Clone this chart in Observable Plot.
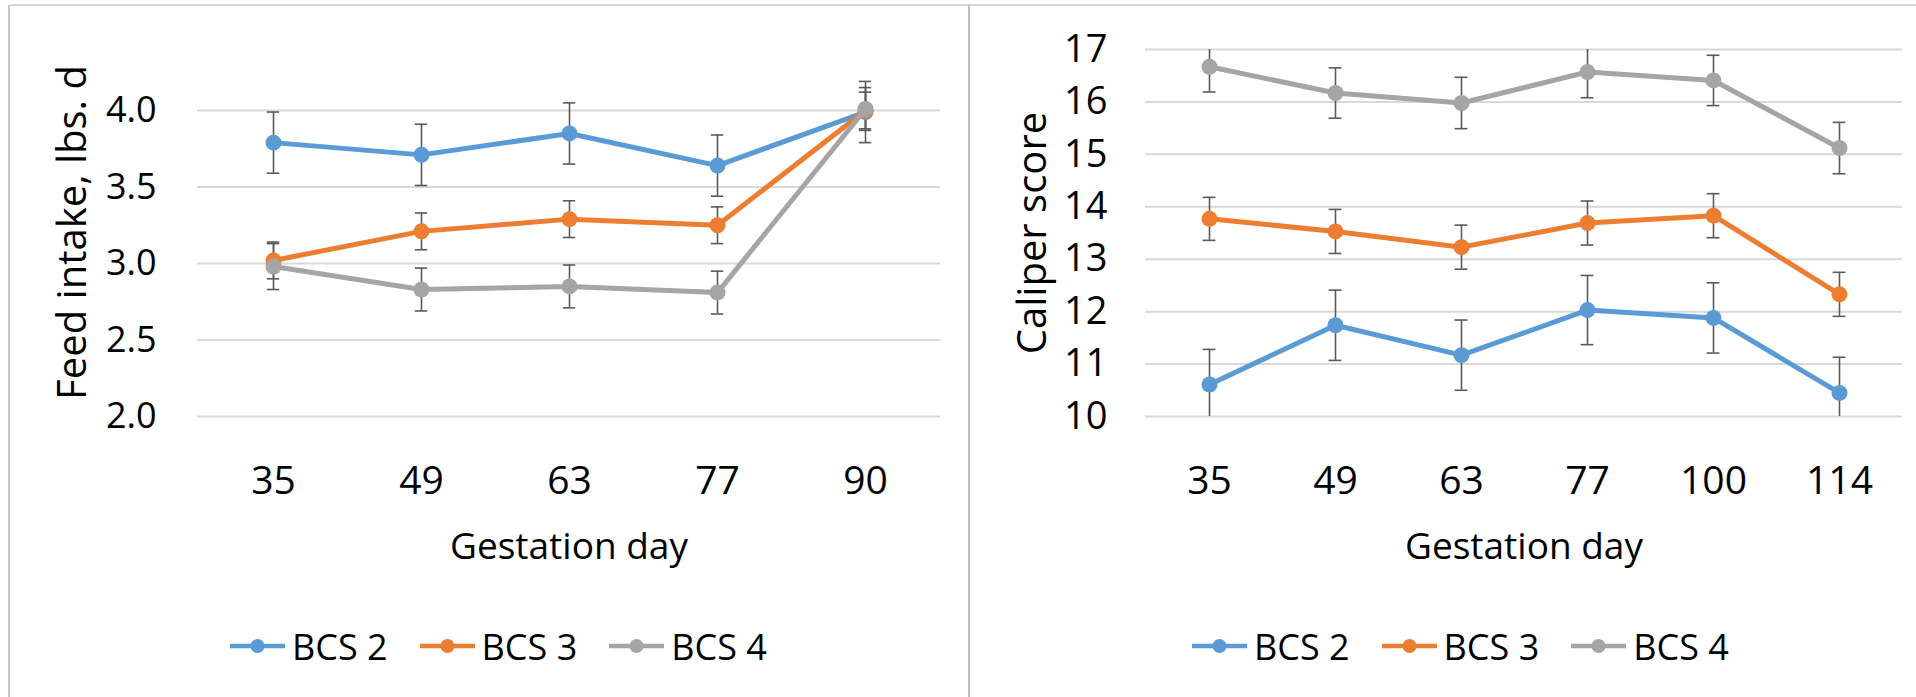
<!DOCTYPE html>
<html>
<head>
<meta charset="utf-8">
<script src="https://cdn.jsdelivr.net/npm/d3@7"></script>
<script src="https://cdn.jsdelivr.net/npm/@observablehq/plot@0.6"></script>
<style>
  body { margin: 0; background: #fff; }
  #root { position: relative; width: 1916px; height: 697px; overflow: hidden; font-family: "Open Sans", sans-serif; background: #fff; }
  .panel { position: absolute; top: 0; }
  .legend { position: absolute; top: 622px; height: 48px; display: flex; align-items: center; font-size: 36px; color: #000; white-space: nowrap; }
  .item { display: flex; align-items: center; margin-right: 32px; }
  .item svg { margin-right: 7px; display: block; }
  .rule { position: absolute; }
</style>
</head>
<body>
<div id="root"></div>
<script>
// ---- data ----
const seriesNames = ["BCS 2", "BCS 3", "BCS 4"];
const seriesColors = ["#5B9BD5", "#ED7D31", "#A5A5A5"];

// Left chart: Feed intake
const feedDays = ["35", "49", "63", "77", "90"];
const feedBCS2 = [3.79, 3.71, 3.85, 3.64, 3.99];
const feedBCS3 = [3.02, 3.21, 3.29, 3.25, 4.00];
const feedBCS4 = [2.98, 2.83, 2.85, 2.81, 4.01];
const feedErr2 = [0.20, 0.20, 0.20, 0.20, 0.20];
const feedErr3 = [0.12, 0.12, 0.12, 0.12, 0.12];
const feedErr4 = [0.15, 0.14, 0.14, 0.14, 0.14];
const feedTicks = [2.0, 2.5, 3.0, 3.5, 4.0];

// Right chart: Caliper score
const calDays = ["35", "49", "63", "77", "100", "114"];
const calBCS2 = [10.61, 11.74, 11.17, 12.03, 11.88, 10.45];
const calBCS3 = [13.77, 13.53, 13.23, 13.69, 13.83, 12.33];
const calBCS4 = [16.67, 16.17, 15.98, 16.57, 16.41, 15.12];
const calErr2 = [0.67, 0.67, 0.67, 0.66, 0.67, 0.68];
const calErr3 = [0.41, 0.42, 0.42, 0.42, 0.42, 0.42];
const calErr4 = [0.48, 0.48, 0.49, 0.49, 0.48, 0.49];
const calTicks = [10, 11, 12, 13, 14, 15, 16, 17];

const xTitle = "Gestation day";

function chart(o) {
  const data = [];
  o.series.forEach((vals, s) => vals.forEach((v, i) =>
    data.push({day: o.days[i], value: v, err: o.errs[s][i], name: seriesNames[s]})));
  const bw = (o.width - o.mL - o.mR) / o.days.length;
  const capInset = (bw - 13) / 2;
  const seriesMarks = seriesNames.flatMap(name => {
    const d = data.filter(r => r.name === name);
    return [
      Plot.line(d, {x: "day", y: "value", stroke: "name", strokeWidth: 5, strokeLinejoin: "round"}),
      Plot.dot(d, {x: "day", y: "value", fill: "name", r: 8, stroke: "none"})
    ];
  });
  return Plot.plot({
    width: o.width, height: o.height,
    marginLeft: o.mL, marginRight: o.mR, marginTop: o.mT, marginBottom: o.mB,
    style: {fontFamily: '"Open Sans", sans-serif', color: "#000", background: "transparent", overflow: "visible"},
    x: {type: "band", domain: o.days, padding: 0},
    y: {domain: o.domain},
    color: {domain: seriesNames, range: seriesColors},
    marks: [
      Plot.gridY(o.ticks, {stroke: "#d9d9d9", strokeOpacity: 1, strokeWidth: 2}),
      Plot.axisY(o.ticks, {tickSize: 0, tickPadding: o.yPad, fontSize: o.yFont, tickFormat: o.yFmt, label: null}),
      Plot.axisX({tickSize: 0, tickPadding: 50, fontSize: 39, label: null}),
      Plot.text([o.yTitle], {frameAnchor: "left", textAnchor: "middle", rotate: -90, dx: o.yTitleDx, dy: o.yTitleDy, fontSize: 40, fill: "#000"}),
      Plot.text([xTitle], {frameAnchor: "bottom", textAnchor: "middle", lineAnchor: "bottom", dy: 142, fontSize: 37, fill: "#000"}),
      Plot.ruleX(data, {x: "day", y1: d => d.value - d.err, y2: d => d.value + d.err, stroke: "#5a5a5a", strokeWidth: 1.6, clip: o.clip}),
      Plot.tickY(data, {x: "day", y: d => d.value + d.err, stroke: "#5a5a5a", strokeWidth: 1.6, insetLeft: capInset, insetRight: capInset, clip: o.clip}),
      Plot.tickY(data, {x: "day", y: d => d.value - d.err, stroke: "#5a5a5a", strokeWidth: 1.6, insetLeft: capInset, insetRight: capInset, clip: o.clip}),
      ...seriesMarks
    ]
  });
}

function legend(left) {
  const div = document.createElement("div");
  div.className = "legend";
  div.style.left = left + "px";
  seriesNames.forEach((name, i) => {
    const item = document.createElement("div");
    item.className = "item";
    item.innerHTML = `<svg width="55" height="16"><line x1="0" y1="8" x2="55" y2="8" stroke="${seriesColors[i]}" stroke-width="4.5"/><circle cx="27.5" cy="8" r="7" fill="${seriesColors[i]}"/></svg><span>${name}</span>`;
    div.appendChild(item);
  });
  return div;
}

const root = document.getElementById("root");

const left = document.createElement("div");
left.className = "panel"; left.style.left = "0px";
left.appendChild(chart({
  days: feedDays, series: [feedBCS2, feedBCS3, feedBCS4], errs: [feedErr2, feedErr3, feedErr4],
  ticks: feedTicks, domain: [2, 4], width: 969, height: 610,
  mL: 197, mR: 29, mT: 110, mB: 194,
  yFmt: d3.format(".1f"), yFont: 36, yPad: 41,
  yTitle: "Feed intake, lbs. d", yTitleDx: -124, yTitleDy: -31, clip: false
}));
root.appendChild(left);

const right = document.createElement("div");
right.className = "panel"; right.style.left = "969px";
right.appendChild(chart({
  days: calDays, series: [calBCS2, calBCS3, calBCS4], errs: [calErr2, calErr3, calErr4],
  ticks: calTicks, domain: [10, 17], width: 947, height: 610,
  mL: 176, mR: 14, mT: 49, mB: 194,
  yFmt: d3.format("d"), yFont: 38, yPad: 38,
  yTitle: "Caliper score", yTitleDx: -112, yTitleDy: 0, clip: true
}));
root.appendChild(right);

root.appendChild(legend(230));
root.appendChild(legend(1192));

// chart-area borders
function rule(l, t, w, h, c) {
  const d = document.createElement("div");
  d.className = "rule";
  Object.assign(d.style, {left: l + "px", top: t + "px", width: w + "px", height: h + "px", background: c});
  root.appendChild(d);
}
rule(9, 4, 1907, 2, "#d9d9d9");
rule(8, 5, 2, 692, "#c8c8c8");
rule(968, 5, 2, 692, "#bfbfbf");
</script>
</body>
</html>
